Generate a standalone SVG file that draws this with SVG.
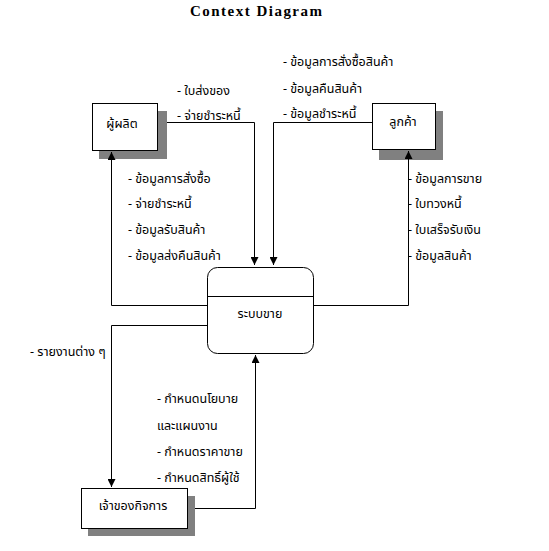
<svg xmlns="http://www.w3.org/2000/svg" width="549" height="551" viewBox="0 0 549 551">
<style>
.t{font-family:"Noto Sans Thai","Noto Sans","DejaVu Sans",sans-serif;font-size:12.5px;fill:#000}
.box{fill:#fff;stroke:#000;stroke-width:1}
.sh{fill:#808080}
.ln{fill:none;stroke:#000;stroke-width:1}
</style>
<defs>
<marker id="ah" markerWidth="8" markerHeight="8" refX="8" refY="4" orient="auto" markerUnits="userSpaceOnUse">
<path d="M0,0 L8,4 L0,8 Z" fill="#000"/>
</marker>
</defs>
<rect width="549" height="551" fill="#fff"/>
<text x="190" y="15.5" textLength="132" lengthAdjust="spacing" style="font-family:'Liberation Serif',serif;font-weight:bold;font-size:15px">Context Diagram</text>
<g id="producer">
<rect class="sh" x="99" y="111" width="68" height="48"/>
<rect class="box" x="92.5" y="103.5" width="65" height="47"/>
<text class="t" x="122" y="128" text-anchor="middle">ผู้ผลิต</text>
</g>
<g id="customer">
<rect class="sh" x="379" y="111" width="64" height="49"/>
<rect class="box" x="372.5" y="103.5" width="63" height="46"/>
<text class="t" x="403" y="126" text-anchor="middle">ลูกค้า</text>
</g>
<g id="system">
<rect class="box" x="207.5" y="267.5" width="106" height="86" rx="10" ry="10"/>
<line class="ln" x1="207.5" y1="296.5" x2="313.5" y2="296.5"/>
<text class="t" x="260" y="318" text-anchor="middle">ระบบขาย</text>
</g>
<g id="owner">
<rect class="sh" x="88" y="496" width="107" height="40"/>
<rect class="box" x="81.5" y="488.5" width="106" height="40"/>
<text class="t" x="133" y="510" text-anchor="middle">เจ้าของกิจการ</text>
</g>
<g id="connectors">
<polyline class="ln" points="167,122.5 254.5,122.5 254.5,265" marker-end="url(#ah)"/>
<polyline class="ln" points="372,122.5 273.5,122.5 273.5,265" marker-end="url(#ah)"/>
<polyline class="ln" points="207,305.5 111.5,305.5 111.5,152" marker-end="url(#ah)"/>
<polyline class="ln" points="314,305.5 408.5,305.5 408.5,151" marker-end="url(#ah)"/>
<polyline class="ln" points="207,325.5 111.5,325.5 111.5,487" marker-end="url(#ah)"/>
<polyline class="ln" points="195,508.5 255.5,508.5 255.5,355" marker-end="url(#ah)"/>
<text class="t" x="177" y="95">- ใบส่งของ</text>
<text class="t" x="177" y="120">- จ่ายชำระหนี้</text>
<text class="t" x="283" y="66">- ข้อมูลการสั่งซื้อสินค้า</text>
<text class="t" x="283" y="93">- ข้อมูลคืนสินค้า</text>
<text class="t" x="283" y="118">- ข้อมูลชำระหนี้</text>
<text class="t" x="128" y="183">- ข้อมูลการสั่งซื้อ</text>
<text class="t" x="128" y="208">- จ่ายชำระหนี้</text>
<text class="t" x="128" y="234">- ข้อมูลรับสินค้า</text>
<text class="t" x="128" y="260">- ข้อมูลส่งคืนสินค้า</text>
<text class="t" x="408" y="183">- ข้อมูลการขาย</text>
<text class="t" x="408" y="208">- ใบทวงหนี้</text>
<text class="t" x="408" y="234">- ใบเสร็จรับเงิน</text>
<text class="t" x="408" y="260">- ข้อมูลสินค้า</text>
<text class="t" x="30" y="356">- รายงานต่าง ๆ</text>
<text class="t" x="157" y="403">- กำหนดนโยบาย</text>
<text class="t" x="157" y="430">และแผนงาน</text>
<text class="t" x="157" y="456">- กำหนดราคาขาย</text>
<text class="t" x="157" y="482">- กำหนดสิทธิ์ผู้ใช้</text>
</g>
</svg>
